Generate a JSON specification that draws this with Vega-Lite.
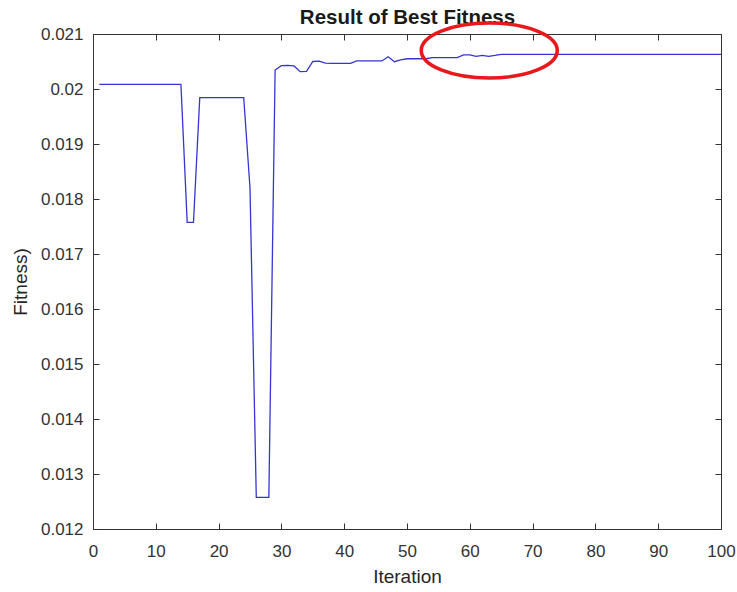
{
  "$schema": "https://vega.github.io/schema/vega-lite/v6.json",
  "autosize": "none",
  "width": 628,
  "height": 495,
  "padding": {"left": 93, "top": 34, "right": 16, "bottom": 63},
  "background": "white",
  "config": {
    "view": {"stroke": "#333333", "strokeWidth": 1},
    "axis": {"grid": false, "labelFont": "Liberation Sans", "titleFont": "Liberation Sans", "labelFontSize": 17, "titleFontSize": 19, "titleFontWeight": "normal", "labelColor": "#333333", "titleColor": "#262626", "domainColor": "#333333", "tickColor": "#333333", "tickSize": -6, "tickWidth": 1}
  },
  "datasets": {
    "fit": [
      {"iter": 1, "fitness": 0.020085}, {"iter": 2, "fitness": 0.020085}, {"iter": 3, "fitness": 0.020085}, {"iter": 4, "fitness": 0.020085}, {"iter": 5, "fitness": 0.020085},
      {"iter": 6, "fitness": 0.020085}, {"iter": 7, "fitness": 0.020085}, {"iter": 8, "fitness": 0.020085}, {"iter": 9, "fitness": 0.020085}, {"iter": 10, "fitness": 0.020085},
      {"iter": 11, "fitness": 0.020085}, {"iter": 12, "fitness": 0.020085}, {"iter": 13, "fitness": 0.020085}, {"iter": 14, "fitness": 0.020085}, {"iter": 15, "fitness": 0.017576},
      {"iter": 16, "fitness": 0.017576}, {"iter": 17, "fitness": 0.019842}, {"iter": 18, "fitness": 0.019842}, {"iter": 19, "fitness": 0.019842}, {"iter": 20, "fitness": 0.019842},
      {"iter": 21, "fitness": 0.019842}, {"iter": 22, "fitness": 0.019842}, {"iter": 23, "fitness": 0.019842}, {"iter": 24, "fitness": 0.019842}, {"iter": 25, "fitness": 0.0182},
      {"iter": 26, "fitness": 0.012576}, {"iter": 27, "fitness": 0.012576}, {"iter": 28, "fitness": 0.012576}, {"iter": 29, "fitness": 0.020345}, {"iter": 30, "fitness": 0.020425},
      {"iter": 31, "fitness": 0.02043}, {"iter": 32, "fitness": 0.02042}, {"iter": 33, "fitness": 0.020315}, {"iter": 34, "fitness": 0.02032}, {"iter": 35, "fitness": 0.0205},
      {"iter": 36, "fitness": 0.020505}, {"iter": 37, "fitness": 0.02047}, {"iter": 38, "fitness": 0.020467}, {"iter": 39, "fitness": 0.020467}, {"iter": 40, "fitness": 0.020467},
      {"iter": 41, "fitness": 0.020467}, {"iter": 42, "fitness": 0.02051}, {"iter": 43, "fitness": 0.02051}, {"iter": 44, "fitness": 0.02051}, {"iter": 45, "fitness": 0.02051},
      {"iter": 46, "fitness": 0.02051}, {"iter": 47, "fitness": 0.020587}, {"iter": 48, "fitness": 0.020496}, {"iter": 49, "fitness": 0.02053}, {"iter": 50, "fitness": 0.02055},
      {"iter": 51, "fitness": 0.02055}, {"iter": 52, "fitness": 0.02055}, {"iter": 53, "fitness": 0.02055}, {"iter": 54, "fitness": 0.02057}, {"iter": 55, "fitness": 0.02057},
      {"iter": 56, "fitness": 0.02057}, {"iter": 57, "fitness": 0.02057}, {"iter": 58, "fitness": 0.02057}, {"iter": 59, "fitness": 0.02062}, {"iter": 60, "fitness": 0.020622},
      {"iter": 61, "fitness": 0.020594}, {"iter": 62, "fitness": 0.020612}, {"iter": 63, "fitness": 0.020594}, {"iter": 64, "fitness": 0.02061}, {"iter": 65, "fitness": 0.02063},
      {"iter": 66, "fitness": 0.02063}, {"iter": 67, "fitness": 0.02063}, {"iter": 68, "fitness": 0.02063}, {"iter": 69, "fitness": 0.02063}, {"iter": 70, "fitness": 0.02063},
      {"iter": 71, "fitness": 0.02063}, {"iter": 72, "fitness": 0.02063}, {"iter": 73, "fitness": 0.02063}, {"iter": 74, "fitness": 0.02063}, {"iter": 75, "fitness": 0.02063},
      {"iter": 76, "fitness": 0.02063}, {"iter": 77, "fitness": 0.02063}, {"iter": 78, "fitness": 0.02063}, {"iter": 79, "fitness": 0.02063}, {"iter": 80, "fitness": 0.02063},
      {"iter": 81, "fitness": 0.02063}, {"iter": 82, "fitness": 0.02063}, {"iter": 83, "fitness": 0.02063}, {"iter": 84, "fitness": 0.02063}, {"iter": 85, "fitness": 0.02063},
      {"iter": 86, "fitness": 0.02063}, {"iter": 87, "fitness": 0.02063}, {"iter": 88, "fitness": 0.02063}, {"iter": 89, "fitness": 0.02063}, {"iter": 90, "fitness": 0.02063},
      {"iter": 91, "fitness": 0.02063}, {"iter": 92, "fitness": 0.02063}, {"iter": 93, "fitness": 0.02063}, {"iter": 94, "fitness": 0.02063}, {"iter": 95, "fitness": 0.02063},
      {"iter": 96, "fitness": 0.02063}, {"iter": 97, "fitness": 0.02063}, {"iter": 98, "fitness": 0.02063}, {"iter": 99, "fitness": 0.02063}, {"iter": 100, "fitness": 0.020631}
    ],
    "mark": [{"iter": 63.1, "fitness": 0.0207}]
  },
  "layer": [
    {
      "data": {"name": "fit"},
      "mark": {"type": "line", "color": "#3535d0", "strokeWidth": 1.3, "interpolate": "linear"},
      "encoding": {
        "x": {"field": "iter", "type": "quantitative", "scale": {"domain": [0, 100], "nice": false},
          "axis": {"orient": "bottom", "title": "Iteration", "values": [0, 10, 20, 30, 40, 50, 60, 70, 80, 90, 100], "labelPadding": 20, "titlePadding": 8, "labelFlush": false, "zindex": 0}},
        "y": {"field": "fitness", "type": "quantitative", "scale": {"domain": [0.012, 0.021], "nice": false, "zero": false},
          "axis": {"orient": "left", "title": "Fitness)", "format": ".3~f", "values": [0.012, 0.013, 0.014, 0.015, 0.016, 0.017, 0.018, 0.019, 0.02, 0.021], "labelPadding": 16, "titlePadding": 10, "labelFlush": false, "zindex": 0}}
      }
    },
    {
      "data": {"name": "mark"},
      "mark": {"type": "point", "shape": "M -1 0 A 1 0.404 0 1 1 1 0 A 1 0.404 0 1 1 -1 0 Z", "filled": false, "stroke": "#e8181c", "strokeWidth": 3.6, "size": 18496, "opacity": 1, "clip": false},
      "encoding": {
        "x": {"field": "iter", "type": "quantitative",
          "axis": {"orient": "top", "title": "Result of Best Fitness", "titleFontWeight": "bold", "titleFontSize": 20.5, "titleColor": "#1a1a1a", "titleBaseline": "alphabetic", "titlePadding": 10, "labels": false, "domain": false, "zindex": 0, "values": [0, 10, 20, 30, 40, 50, 60, 70, 80, 90, 100]}},
        "y": {"field": "fitness", "type": "quantitative",
          "axis": {"orient": "right", "title": null, "labels": false, "domain": false, "zindex": 0, "values": [0.012, 0.013, 0.014, 0.015, 0.016, 0.017, 0.018, 0.019, 0.02, 0.021]}}
      }
    }
  ]
}
